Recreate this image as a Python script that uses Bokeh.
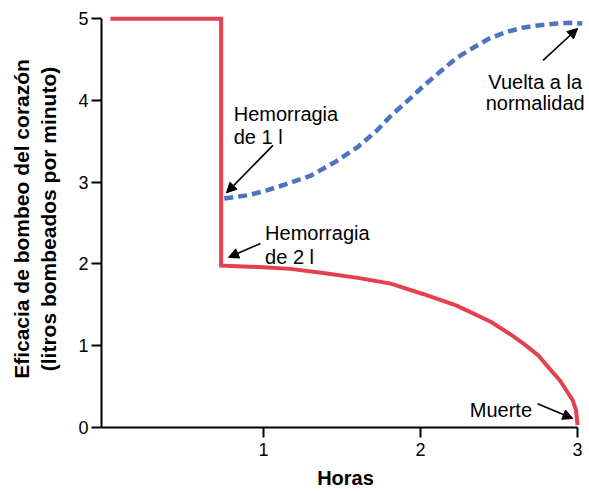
from bokeh.plotting import figure
from bokeh.models import Range1d, FixedTicker, Arrow, NormalHead
from bokeh.core.properties import value
from bokeh.embed import file_html
from bokeh.resources import INLINE

# --- data ---
red_x = [0.025, 0.73, 0.73, 0.87, 1.0, 1.17, 1.38, 1.60, 1.81, 2.02, 2.23, 2.45, 2.58, 2.66, 2.75, 2.83, 2.89, 2.93, 2.97, 2.99, 3.0]
red_y = [5.0, 5.0, 1.98, 1.97, 1.96, 1.94, 1.89, 1.83, 1.76, 1.63, 1.49, 1.29, 1.13, 1.02, 0.88, 0.70, 0.57, 0.45, 0.33, 0.21, 0.03]

blue_x = [0.75, 0.90, 1.02, 1.15, 1.30, 1.45, 1.60, 1.72, 1.81, 1.92, 2.02, 2.13, 2.23, 2.34, 2.44, 2.55, 2.65, 2.76, 2.87, 2.95, 3.03]
blue_y = [2.80, 2.84, 2.90, 2.98, 3.08, 3.24, 3.43, 3.63, 3.81, 4.00, 4.18, 4.36, 4.52, 4.65, 4.76, 4.84, 4.89, 4.92, 4.94, 4.95, 4.94]

x_ticks = [1, 2, 3]
y_ticks = [0, 1, 2, 3, 4, 5]
x_label = "Horas"
y_label = "Eficacia de bombeo del corazón\n(litros bombeados por minuto)"

FONT = "Liberation Sans"

p = figure(width=589, height=492, output_backend="svg", toolbar_location=None,
           x_range=Range1d(-0.032, 3.076), y_range=Range1d(0, 5.1),
           min_border_left=101, min_border_right=0, min_border_top=10, min_border_bottom=65)
p.outline_line_color = None
p.xgrid.visible = False
p.ygrid.visible = False
p.background_fill_color = "white"

RED = "#e4404f"
BLUE = "#4d74c0"

p.line(blue_x, blue_y, line_color=BLUE, line_width=4.5, line_dash="9 5")
p.line(red_x, red_y, line_color=RED, line_width=4, line_join="miter")

# axes
for ax in (p.xaxis[0], p.yaxis[0]):
    ax.axis_line_width = 2
    ax.axis_line_color = "black"
    ax.major_tick_line_width = 2
    ax.major_tick_out = 10
    ax.major_tick_in = 0
    ax.minor_tick_out = 0
    ax.minor_tick_in = 0
    ax.major_label_text_font = FONT
    ax.major_label_text_font_size = "18px"
    ax.major_label_text_color = "black"
    ax.axis_label_text_font = FONT
    ax.axis_label_text_font_style = "bold"
    ax.axis_label_text_color = "black"

p.xaxis.ticker = FixedTicker(ticks=x_ticks)
p.yaxis.ticker = FixedTicker(ticks=y_ticks)
p.xaxis.bounds = (-0.032, 3)
p.yaxis.bounds = (0, 5)
p.xaxis.axis_label = x_label
p.yaxis.axis_label = y_label
p.xaxis.axis_label_text_font_size = "20px"
p.yaxis.axis_label_text_font_size = "21px"
p.xaxis.major_label_standoff = 5
p.yaxis.major_label_standoff = 3
p.xaxis.axis_label_standoff = 8
p.yaxis.axis_label_standoff = 15

# annotations
ann_x = [0.81, 0.81, 1.01, 1.01, 2.73, 2.73]
ann_y = [3.84, 3.55, 2.38, 2.09, 4.22, 3.97]
ann_t = ["Hemorragia", "de 1 l", "Hemorragia", "de 2 l", "Vuelta a la", "normalidad"]
ann_align = ["left", "left", "left", "left", "center", "center"]
p.text(x=ann_x, y=ann_y, text=ann_t, text_align=ann_align, text_baseline="alphabetic",
       text_font=value(FONT), text_font_size="20px", text_color="black")
p.text(x=[2.71], y=[0.21], text=["Muerte"], text_align="right", text_baseline="alphabetic",
       text_font=value(FONT), text_font_size="20px", text_color="black")

arrows = [
    (1.06, 3.45, 0.764, 2.87),
    (0.98, 2.25, 0.777, 2.08),
    (2.78, 4.49, 3.0, 4.88),
    (2.745, 0.29, 2.97, 0.11),
]
for xs, ys, xe, ye in arrows:
    p.add_layout(Arrow(x_start=xs, y_start=ys, x_end=xe, y_end=ye, line_width=1.6,
                       line_color="black",
                       end=NormalHead(size=10, fill_color="black", line_color="black", line_width=1)))

open("out.html", "w").write(file_html(p, INLINE))
